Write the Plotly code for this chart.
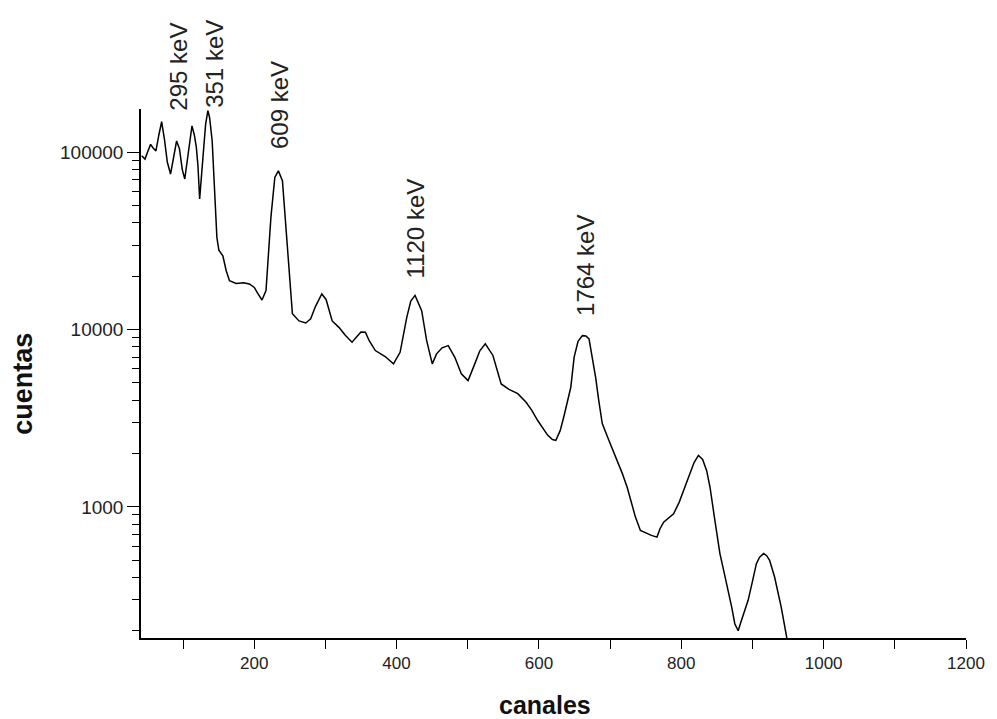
import math
import plotly.graph_objects as go

# ---- data ----
canales = [42, 46.6, 50, 54.5, 58, 62, 66, 70, 74, 78, 82.5, 86, 91, 95, 99, 102.5, 106,
           112.6, 116, 118.7, 121, 123.4, 128, 131.8, 135, 137.4, 141, 144.4, 147.6, 150.4,
           156, 160.7, 165.3, 174.6, 185, 193.2, 200.2, 205, 211, 216.6, 223.5, 229, 234,
           239.7, 246.7, 253.7, 263, 272.4, 279.4, 286, 295, 301, 309.6, 319, 328, 337.5,
           345, 350, 356.2, 362, 370.2, 384, 395.7, 405, 414.3, 420, 426, 435.3, 442.3,
           450.2, 456.2, 464, 472.6, 481.9, 491, 500.5, 509.9, 517, 524.7, 535.4, 547, 558,
           570.3, 582, 590, 598.3, 612.2, 619, 623.8, 630, 635.6, 644.8, 649.5, 655, 661.1,
           666, 670.4, 675, 679.7, 684, 689, 698.4, 704, 710, 717, 724, 730, 735.6, 742.6,
           751.9, 758, 765.9, 770, 775.2, 789.2, 797, 803.2, 812.4, 818, 824.1, 830, 835.7,
           840.4, 847, 854.3, 860, 866, 871, 875.2, 879.9, 884.6, 889, 893.9, 900, 905.5,
           910, 915.7, 920, 924.1, 931.1, 936, 940.4, 945, 948.3]
cuentas = [95700, 91700, 100000, 111000, 106000, 102000, 125000, 149000, 118000, 88000,
           75500, 90000, 116000, 105000, 80000, 70800, 90000, 141000, 125000, 107000,
           84100, 54600, 93500, 144500, 172000, 157000, 116000, 60800, 33100, 28100,
           26100, 21500, 18900, 18200, 18400, 18100, 17300, 16000, 14700, 16600, 43000,
           72300, 78700, 69200, 27900, 12300, 11200, 10900, 11500, 13500, 15900, 14800,
           11200, 10300, 9300, 8490, 9200, 9700, 9660, 8600, 7620, 7050, 6410, 7450,
           11700, 14500, 15600, 12800, 8670, 6410, 7300, 7900, 8130, 6980, 5630, 5160,
           6410, 7600, 8310, 7150, 4940, 4600, 4350, 3890, 3500, 3070, 2540, 2400, 2370,
           2700, 3300, 4730, 7000, 8600, 9250, 9200, 8870, 7000, 5380, 4000, 2950, 2370,
           2100, 1830, 1550, 1290, 1070, 875, 736, 705, 690, 675, 750, 820, 914, 1060,
           1240, 1540, 1780, 1950, 1850, 1600, 1290, 850, 545, 430, 338, 270, 219, 200,
           229, 260, 297, 380, 478, 520, 545, 530, 499, 402, 330, 272, 215, 182]

peak_labels = ["295 keV", "351 keV", "609 keV", "1120 keV", "1764 keV"]
peak_x = [94, 144.4, 236.5, 427, 664.6]
peak_label_base = [167000, 173000, 102000, 18900, 11700]

x_ticks = [200, 400, 600, 800, 1000, 1200]
x_minor = [100, 300, 500, 700, 900, 1100]
y_ticks = [1000, 10000, 100000]
y_ticktext = ["1000", "10000", "100000"]
y_minor = [m * 10 ** e for e in (2, 3, 4, 5) for m in range(2, 10)]

FONT = "Liberation Sans, Arial, sans-serif"

fig = go.Figure()
fig.add_trace(go.Scatter(x=canales, y=cuentas, mode="lines",
                         line=dict(color="black", width=1.5), showlegend=False,
                         cliponaxis=True))

for lab, xv, yv in zip(peak_labels, peak_x, peak_label_base):
    fig.add_annotation(x=xv, y=math.log10(yv), text=lab, textangle=-90,
                       showarrow=False, xanchor="center", yanchor="bottom",
                       font=dict(family=FONT, size=24, color="#222"))

fig.add_annotation(xref="paper", yref="paper", x=-0.1434, y=0.48, text="<b>cuentas</b>",
                   textangle=-90, showarrow=False, xanchor="center", yanchor="middle",
                   font=dict(family=FONT, size=27, color="#111"))
fig.add_annotation(xref="paper", yref="paper", x=0.490, y=-0.127, text="<b>canales</b>",
                   showarrow=False, xanchor="center", yanchor="middle",
                   font=dict(family=FONT, size=25, color="#111"))

# the page body has an 8px margin, so the figure is offset by 8px
fig.update_layout(
    width=989, height=711,
    margin=dict(l=133, r=26, t=101, b=81),
    paper_bgcolor="white", plot_bgcolor="white",
    xaxis=dict(range=[41, 1200], tickmode="array", tickvals=x_ticks,
               ticks="outside", ticklen=9, tickwidth=1.2, tickcolor="black",
               showline=True, linecolor="black", linewidth=1.5, showgrid=False,
               zeroline=False, tickfont=dict(family=FONT, size=17, color="#222"),
               minor=dict(tickmode="array", tickvals=x_minor, ticks="outside",
                          ticklen=9, tickwidth=1.2, tickcolor="black", showgrid=False)),
    yaxis=dict(type="log", range=[2.26, 5.245], tickmode="array", tickvals=y_ticks,
               ticktext=y_ticktext, ticks="outside", ticklen=12, tickwidth=1.2,
               tickcolor="black", showline=True, linecolor="black", linewidth=1.5,
               showgrid=False, zeroline=False,
               tickfont=dict(family=FONT, size=19, color="#222"),
               minor=dict(tickmode="array", tickvals=y_minor, ticks="outside",
                          ticklen=7, tickwidth=1.2, tickcolor="black", showgrid=False)),
)

fig.write_html("out.html")
